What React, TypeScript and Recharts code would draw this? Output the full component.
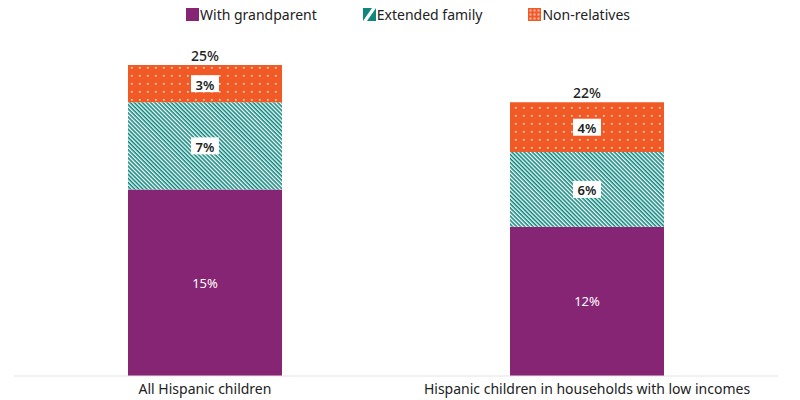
import { BarChart, Bar, XAxis, YAxis, Legend, LabelList } from 'recharts';

// Share of Hispanic children living with relatives / non-relatives, by group
const groups = ['All Hispanic children', 'Hispanic children in households with low incomes'];
const withGrandparent = [15, 12];
const extendedFamily = [7, 6];
const nonRelatives = [3, 4];

const data = groups.map((name, i) => ({
  name,
  grandparent: withGrandparent[i],
  extended: extendedFamily[i],
  nonrel: nonRelatives[i],
  total: withGrandparent[i] + extendedFamily[i] + nonRelatives[i],
}));

const PURPLE = '#862573';
const TEAL = '#0f877f';
const ORANGE = '#f15a24';
const FONT = '"Noto Sans", sans-serif';

const legendItems = [
  { label: 'With grandparent', kind: 'solid' },
  { label: 'Extended family', kind: 'stripe' },
  { label: 'Non-relatives', kind: 'dots' },
];

const Swatch = ({ kind }: { kind: string }) => (
  <svg width={13} height={13} style={{ marginRight: 1 }}>
    {kind === 'solid' && <rect width={13} height={13} fill={PURPLE} />}
    {kind === 'stripe' && (
      <g>
        <rect width={13} height={13} fill={TEAL} />
        <polygon points="9,0 13,0 4,13 0,13" fill="#fff" />
      </g>
    )}
    {kind === 'dots' && (
      <g>
        <rect width={13} height={13} fill={ORANGE} />
        {[2.5, 6.5, 10.5].map((cx) =>
          [2.5, 6.5, 10.5].map((cy) => <rect key={`${cx}-${cy}`} x={cx - 1} y={cy - 1} width={2} height={2} fill="#fbb" />)
        )}
      </g>
    )}
  </svg>
);

const renderLegend = () => (
  <div style={{ display: 'flex', justifyContent: 'center', gap: 46, fontFamily: FONT, fontSize: 14, color: '#222', paddingLeft: 24 }}>
    {legendItems.map((it) => (
      <div key={it.label} style={{ display: 'flex', alignItems: 'center' }}>
        <Swatch kind={it.kind} />
        <span>{it.label}</span>
      </div>
    ))}
  </div>
);

const BoxLabel = (props: any) => {
  const { x, y, width, height, value } = props;
  const cx = x + width / 2;
  const cy = y + height / 2;
  return (
    <g>
      <rect x={cx - 14} y={cy - 8.5} width={28} height={17} fill="#fff" />
      <text x={cx} y={cy + 1} textAnchor="middle" dominantBaseline="central" fontFamily={FONT} fontSize={13} fontWeight={600} fill="#222">
        {value}%
      </text>
    </g>
  );
};

const InnerLabel = (props: any) => {
  const { x, y, width, height, value } = props;
  return (
    <text x={x + width / 2} y={y + height / 2} textAnchor="middle" dominantBaseline="central" fontFamily={FONT} fontSize={13} fill="#fff">
      {value}%
    </text>
  );
};

const TotalLabel = (props: any) => {
  const { x, y, width, value } = props;
  return (
    <text x={x + width / 2} y={y - 10} textAnchor="middle" dominantBaseline="central" fontFamily={FONT} fontSize={14} fontWeight={500} fill="#222">
      {value}%
    </text>
  );
};

export default function App() {
  return (
    <div style={{ width: 800, height: 400, background: '#fff' }}>
      <style>{'body{margin:0}'}</style>
      <BarChart width={800} height={400} data={data} margin={{ top: 46, right: 22, left: 14, bottom: 0 }}>
        <defs>
          <pattern id="stripes" patternUnits="userSpaceOnUse" width={2.9} height={2.9} patternTransform="rotate(-45)">
            <rect width={2.9} height={2.9} fill={TEAL} />
            <rect width={1.3} height={2.9} fill="#fff" />
          </pattern>
          <pattern id="dots" patternUnits="userSpaceOnUse" width={8} height={8}>
            <rect width={8} height={8} fill={ORANGE} />
            <rect x={3} y={3} width={1.6} height={1.6} fill="#fdd" />
          </pattern>
        </defs>
        <XAxis
          dataKey="name"
          axisLine={{ stroke: '#e3e3e3' }}
          tickLine={false}
          height={24}
          tick={{ fontFamily: FONT, fontSize: 14, fill: '#222' }}
        />
        <YAxis hide domain={[0, 25]} />
        <Legend verticalAlign="top" align="center" content={renderLegend} wrapperStyle={{ top: 5 }} />
        <Bar dataKey="grandparent" stackId="a" fill={PURPLE} barSize={154} isAnimationActive={false}>
          <LabelList dataKey="grandparent" content={InnerLabel} />
        </Bar>
        <Bar dataKey="extended" stackId="a" fill="url(#stripes)" barSize={154} isAnimationActive={false}>
          <LabelList dataKey="extended" content={BoxLabel} />
        </Bar>
        <Bar dataKey="nonrel" stackId="a" fill="url(#dots)" barSize={154} isAnimationActive={false}>
          <LabelList dataKey="nonrel" content={BoxLabel} />
          <LabelList dataKey="total" content={TotalLabel} />
        </Bar>
      </BarChart>
    </div>
  );
}
